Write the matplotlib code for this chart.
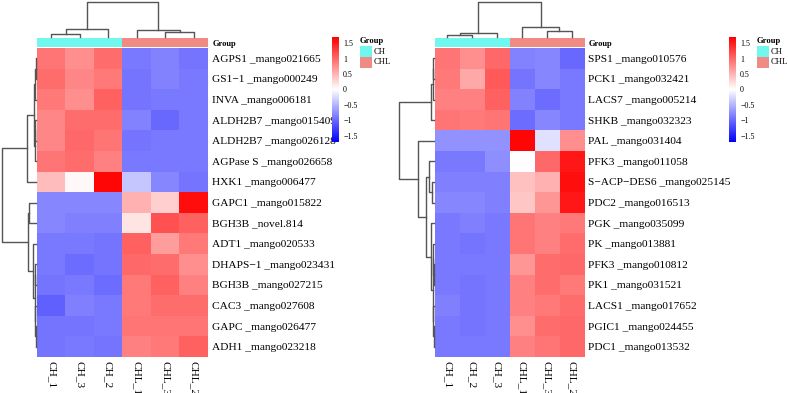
import matplotlib
matplotlib.use("Agg")
import matplotlib.pyplot as plt
import matplotlib.patches as patches
from matplotlib.colors import LinearSegmentedColormap, ListedColormap
import numpy as np

plt.rcParams['font.family'] = ['Liberation Serif', 'DejaVu Serif']

# ---- data (row z-scores) ----
left_genes = ["AGPS1 _mango021665", "GS1\u22121 _mango000249", "INVA _mango006181",
              "ALDH2B7 _mango015409", "ALDH2B7 _mango026128", "AGPase S _mango026658",
              "HXK1 _mango006477", "GAPC1 _mango015822", "BGH3B _novel.814",
              "ADT1 _mango020533", "DHAPS\u22121 _mango023431", "BGH3B _mango027215",
              "CAC3 _mango027608", "GAPC _mango026477", "ADH1 _mango023218"]
left_samples = ["CH_1", "CH_3", "CH_2", "CHL_1", "CHL_3", "CHL_2"]
left_groups = [0, 0, 0, 1, 1, 1]
left_values = [
    [0.92, 0.75, 0.97, -0.88, -0.83, -0.92],
    [0.97, 0.80, 0.88, -0.92, -0.83, -0.88],
    [0.88, 0.75, 1.05, -0.92, -0.88, -0.88],
    [0.80, 0.97, 0.97, -0.83, -1.00, -0.88],
    [0.80, 1.00, 0.92, -0.92, -0.88, -0.88],
    [0.92, 0.97, 0.84, -0.88, -0.88, -0.88],
    [0.45, 0.05, 1.65, -0.38, -0.80, -0.92],
    [-0.80, -0.80, -0.80, 0.52, 0.33, 1.62],
    [-0.80, -0.84, -0.84, 0.18, 1.15, 1.06],
    [-0.88, -0.88, -0.92, 1.05, 0.66, 0.88],
    [-0.88, -0.97, -0.92, 1.00, 0.97, 0.75],
    [-0.92, -0.88, -0.97, 0.88, 1.05, 0.84],
    [-1.05, -0.84, -0.88, 0.88, 0.97, 0.97],
    [-0.92, -0.92, -0.88, 0.92, 0.92, 0.92],
    [-0.92, -0.88, -0.92, 0.84, 0.88, 1.05],
]

right_genes = ["SPS1 _mango010576", "PCK1 _mango032421", "LACS7 _mango005214",
               "SHKB _mango032323", "PAL _mango031404", "PFK3 _mango011058",
               "S\u2212ACP\u2212DES6 _mango025145", "PDC2 _mango016513", "PGK _mango035099",
               "PK _mango013881", "PFK3 _mango010812", "PK1 _mango031521",
               "LACS1 _mango017652", "PGIC1 _mango024455", "PDC1 _mango013532"]
right_samples = ["CH_1", "CH_2", "CH_3", "CHL_1", "CHL_3", "CHL_2"]
right_groups = [0, 0, 0, 1, 1, 1]
right_values = [
    [0.92, 0.75, 1.00, -0.83, -0.80, -1.00],
    [0.88, 0.58, 1.10, -0.92, -0.80, -0.88],
    [0.84, 0.84, 1.05, -0.83, -0.97, -0.88],
    [0.92, 0.88, 0.92, -0.97, -0.80, -0.88],
    [-0.72, -0.72, -0.72, 1.65, -0.20, 0.75],
    [-0.88, -0.88, -0.75, 0.00, 1.00, 1.55],
    [-0.84, -0.84, -0.84, 0.42, 0.52, 1.60],
    [-0.80, -0.80, -0.84, 0.38, 0.70, 1.55],
    [-0.88, -0.84, -0.88, 0.92, 0.84, 0.88],
    [-0.88, -0.92, -0.88, 0.92, 0.84, 0.97],
    [-0.88, -0.88, -0.88, 0.70, 0.97, 1.00],
    [-0.88, -0.92, -0.88, 0.84, 0.97, 0.88],
    [-0.84, -0.92, -0.88, 0.84, 0.88, 0.97],
    [-0.88, -0.92, -0.88, 0.75, 0.97, 1.00],
    [-0.88, -0.88, -0.88, 0.84, 0.92, 1.00],
]

# dendrograms as (height, left, right), leaves = index
left_col_tree = (1.0, (0.23, (0.09, 0, 1), 2), (0.20, 3, (0.14, 4, 5)))
right_col_tree = (1.0, (0.11, (0.06, 0, 1), 2), (0.29, 3, (0.17, 4, 5)))
left_row_tree = (1.0,
                 (0.26, (0.05, (0.03, (0.01, 0, 1), 2), (0.03, (0.015, 3, 4), 5)), 6),
                 (0.235, (0.20, 7, 8),
                  (0.09, 9, (0.03, (0.015, 10, 11), (0.02, 12, (0.01, 13, 14))))))
right_row_tree = (1.0,
                  (0.08, (0.04, (0.02, 0, 1), 2), 3),
                  (0.47, 4,
                   (0.22, (0.14, 5, (0.06, 6, 7)),
                    (0.08, 8, (0.04, (0.02, 9, (0.01, 10, 11)),
                               (0.03, 12, (0.01, 13, 14)))))))

group_names = ["CH", "CHL"]
group_colors = ["#70F7EE", "#F08A84"]
cbar_ticks = [-1.5, -1, -0.5, 0, 0.5, 1, 1.5]

W, H = 788, 393
cmap = LinearSegmentedColormap.from_list("bwr2", ["#0000FF", "#FFFFFF", "#FF0000"])
vmin, vmax = -1.7, 1.7
line_col = "#555555"

fig = plt.figure(figsize=(W / 100, H / 100), dpi=100)


def px_axes(x0, y0, x1, y1):
    return fig.add_axes([x0 / W, 1 - y1 / H, (x1 - x0) / W, (y1 - y0) / H])


def draw_tree(ax, node, vertical):
    if isinstance(node, int):
        return node, 0.0
    h, l, r = node
    pl, hl = draw_tree(ax, l, vertical)
    pr, hr = draw_tree(ax, r, vertical)
    a = [pl, pl, pr, pr]
    b = [hl, h, h, hr]
    if vertical:
        ax.plot(a, b, color=line_col, lw=1.0, clip_on=False)
    else:
        ax.plot(b, a, color=line_col, lw=1.0, clip_on=False)
    return (pl + pr) / 2, h


def panel(hx0, hx1, rx0, cbx, legx, genes, samples, groups, values, col_tree, row_tree):
    hy0, hy1 = 48, 357
    n = len(genes)
    # heatmap
    ax = px_axes(hx0, hy0, hx1, hy1)
    im = ax.imshow(np.array(values), cmap=cmap, vmin=vmin, vmax=vmax,
                   aspect='auto', interpolation='nearest')
    for s in ax.spines.values():
        s.set_visible(False)
    ax.yaxis.tick_right()
    ax.set_yticks(range(n))
    ax.set_yticklabels(genes, fontsize=8.2)
    ax.set_xticks(range(len(samples)))
    ax.set_xticklabels(samples, fontsize=8.2, rotation=270, va='top')
    ax.tick_params(length=0, pad=3)

    # group annotation bar
    gax = px_axes(hx0, 38, hx1, 47)
    gax.imshow([groups], cmap=ListedColormap(group_colors), vmin=0, vmax=1,
               aspect='auto', interpolation='nearest')
    gax.set_xticks([])
    gax.yaxis.tick_right()
    gax.set_yticks([0])
    gax.set_yticklabels(["Group"], fontsize=6, fontweight='bold')
    gax.tick_params(length=0, pad=3)
    for s in gax.spines.values():
        s.set_visible(False)

    # column dendrogram
    cax = px_axes(hx0, 2, hx1, 37)
    draw_tree(cax, col_tree, True)
    cax.set_xlim(-0.5, len(samples) - 0.5)
    cax.set_ylim(0, 1)
    cax.axis('off')

    # row dendrogram
    rax = px_axes(rx0, hy0, hx0 - 1, hy1)
    draw_tree(rax, row_tree, False)
    rax.set_ylim(n - 0.5, -0.5)
    rax.set_xlim(1, 0)
    rax.axis('off')

    # colorbar
    cbax = px_axes(cbx, 37, cbx + 7, 142)
    cb = fig.colorbar(im, cax=cbax, ticks=cbar_ticks)
    cb.outline.set_visible(False)
    cb.ax.set_yticklabels([("%g" % t).replace("-", "\u2212") for t in cbar_ticks], fontsize=5.8)
    cb.ax.tick_params(length=0, pad=3)

    # legend for groups
    fig.text(legx / W, 1 - 41 / H, "Group", fontsize=6.2, fontweight='bold', va='center', ha='left')
    for i, (g, c) in enumerate(zip(group_names, group_colors)):
        y0 = 46 + 11 * i
        fig.add_artist(patches.Rectangle((legx / W, 1 - (y0 + 11) / H), 12 / W, 11 / H,
                                         transform=fig.transFigure, color=c, lw=0))
        fig.text((legx + 14) / W, 1 - (y0 + 5.5) / H, g, fontsize=6.2, va='center', ha='left')


panel(37, 208, 2, 332, 360, left_genes, left_samples, left_groups, left_values,
      left_col_tree, left_row_tree)
panel(435, 584, 399, 729, 757, right_genes, right_samples, right_groups, right_values,
      right_col_tree, right_row_tree)

fig.savefig("out.png", dpi=100)
